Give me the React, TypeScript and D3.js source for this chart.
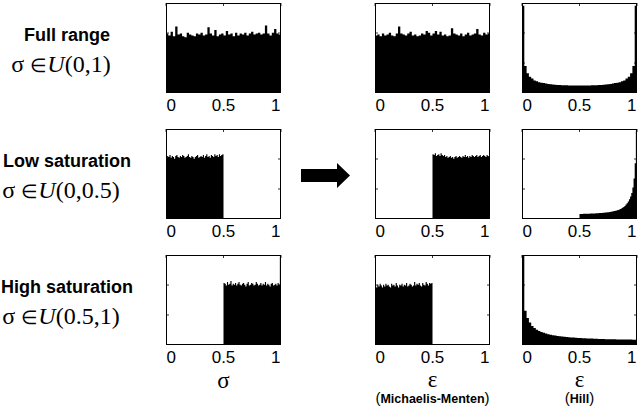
import React from "react";
import * as d3 from "d3";

// ---- data (bin heights, relative to the axis height) ----
const xTicks = [0, 0.5, 1];
const xTickLabels = ["0", "0.5", "1"];

const rowTitles = ["Full range", "Low saturation", "High saturation"];
const rowRanges = ["(0,1)", "(0,0.5)", "(0.5,1)"];

// row 1
const sigmaFull = [0.66,0.64,0.68,0.63,0.74,0.65,0.66,0.63,0.62,0.67,0.65,0.64,0.63,0.66,0.65,0.67,0.64,0.65,0.73,0.66,0.64,0.70,0.63,0.65,0.66,0.64,0.69,0.65,0.66,0.63,0.67,0.64,0.66,0.65,0.67,0.64,0.66,0.68,0.65,0.66,0.67,0.65,0.66,0.75,0.66,0.64,0.67,0.71,0.66,0.65];
const mmFull = [0.64,0.65,0.63,0.66,0.64,0.65,0.67,0.64,0.63,0.66,0.74,0.66,0.65,0.64,0.66,0.68,0.64,0.65,0.63,0.64,0.66,0.65,0.69,0.67,0.64,0.66,0.69,0.65,0.68,0.64,0.65,0.63,0.64,0.72,0.66,0.65,0.64,0.66,0.63,0.65,0.67,0.64,0.65,0.66,0.71,0.65,0.64,0.67,0.65,0.66];
const hillFull = [0.97,0.30,0.22,0.18,0.16,0.14,0.13,0.12,0.115,0.11,0.105,0.10,0.097,0.094,0.092,0.09,0.088,0.087,0.086,0.085,0.084,0.083,0.083,0.082,0.082,0.082,0.082,0.083,0.083,0.084,0.085,0.086,0.087,0.088,0.09,0.092,0.094,0.097,0.10,0.105,0.11,0.115,0.12,0.13,0.14,0.16,0.18,0.22,0.30,0.97];
// row 2
const sigmaLow = [0.68,0.70,0.69,0.71,0.68,0.70,0.69,0.67,0.70,0.71,0.69,0.68,0.70,0.69,0.71,0.70,0.68,0.69,0.70,0.72,0.69,0.68,0.70,0.69,0.67,0.69,0.70,0.71,0.68,0.69,0.70,0.69,0.71,0.68,0.70,0.72,0.69,0.70,0.68,0.71,0.70,0.69,0.72,0.70,0.71,0.69,0.72,0.70,0.71,0.72];
const mmLow = [0.72,0.71,0.73,0.70,0.71,0.72,0.70,0.73,0.71,0.70,0.71,0.69,0.70,0.68,0.69,0.70,0.68,0.69,0.67,0.69,0.70,0.68,0.69,0.70,0.69,0.68,0.70,0.69,0.71,0.69,0.70,0.68,0.70,0.69,0.71,0.70,0.69,0.70,0.71,0.69,0.70,0.71,0.69,0.70,0.71,0.70,0.69,0.71,0.70,0.69];
const hillLow = [0.055,0.056,0.056,0.057,0.057,0.058,0.058,0.059,0.059,0.06,0.06,0.061,0.062,0.062,0.063,0.064,0.065,0.066,0.067,0.068,0.069,0.07,0.071,0.073,0.074,0.076,0.078,0.08,0.082,0.085,0.088,0.091,0.095,0.099,0.104,0.11,0.116,0.124,0.133,0.145,0.16,0.175,0.195,0.22,0.25,0.29,0.35,0.45,0.62,0.98];
// row 3
const sigmaHigh = [0.69,0.68,0.66,0.70,0.67,0.68,0.71,0.66,0.68,0.67,0.69,0.66,0.68,0.70,0.67,0.66,0.68,0.69,0.67,0.65,0.68,0.70,0.66,0.67,0.69,0.68,0.66,0.67,0.70,0.68,0.66,0.67,0.69,0.66,0.68,0.67,0.70,0.66,0.68,0.67,0.65,0.68,0.69,0.66,0.67,0.68,0.66,0.69,0.67,0.98];
const mmHigh = [0.66,0.64,0.67,0.65,0.68,0.66,0.64,0.67,0.65,0.68,0.66,0.67,0.65,0.64,0.68,0.66,0.67,0.65,0.69,0.66,0.64,0.67,0.66,0.68,0.65,0.67,0.66,0.69,0.65,0.66,0.68,0.67,0.65,0.66,0.70,0.66,0.68,0.67,0.69,0.66,0.65,0.69,0.67,0.66,0.70,0.68,0.66,0.69,0.68,0.69];
const hillHigh = [1.0,0.38,0.3,0.25,0.21,0.19,0.17,0.155,0.145,0.135,0.127,0.12,0.114,0.109,0.105,0.101,0.097,0.094,0.091,0.088,0.086,0.084,0.082,0.08,0.078,0.077,0.075,0.074,0.073,0.072,0.071,0.07,0.069,0.068,0.067,0.066,0.065,0.065,0.064,0.063,0.063,0.062,0.062,0.061,0.061,0.06,0.06,0.06,0.059,0.059];

// [start, end] of each histogram's bins on the x axis
const panels = [
  [{ v: sigmaFull, a: 0, b: 1 }, { v: mmFull, a: 0, b: 1 }, { v: hillFull, a: 0, b: 1 }],
  [{ v: sigmaLow, a: 0, b: 0.5 }, { v: mmLow, a: 0.5, b: 1 }, { v: hillLow, a: 0.5, b: 1 }],
  [{ v: sigmaHigh, a: 0.5, b: 1 }, { v: mmHigh, a: 0, b: 0.5 }, { v: hillHigh, a: 0, b: 1 }],
];

// ---- layout ----
const colX = [166, 375, 522];
const boxW = 115;
const rowY = [3, 129, 255];
const boxH = 90;

const SANS = "'Liberation Sans', Arial, sans-serif";
const SERIF = "'Liberation Serif', 'Times New Roman', serif";

function Hist({ x0, y0, data }: { x0: number; y0: number; data: { v: number[]; a: number; b: number } }) {
  const x = d3.scaleLinear().domain([0, 1]).range([x0, x0 + boxW]);
  const y = d3.scaleLinear().domain([0, 1]).range([y0 + boxH, y0]);
  const n = data.v.length;
  const w = (data.b - data.a) / n;
  const pts = data.v.map((h, i) => [data.a + i * w, h] as [number, number]);
  pts.push([data.b, data.v[n - 1]]);
  const area = d3
    .area<[number, number]>()
    .x((d) => x(d[0]))
    .y0(y(0))
    .y1((d) => y(d[1]))
    .curve(d3.curveStepAfter);
  const yTicks = [1 / 3, 2 / 3];
  return (
    <g>
      <path d={area(pts) || ""} fill="#000" />
      {xTicks.map((t) => (
        <line key={"t" + t} x1={x(t)} x2={x(t)} y1={y0} y2={y0 + 3} stroke="#000" strokeWidth={0.8} />
      ))}
      {yTicks.map((t) => (
        <g key={"y" + t}>
          <line x1={x0 + boxW} x2={x0 + boxW - 3} y1={y(t)} y2={y(t)} stroke="#000" strokeWidth={0.8} />
          <line x1={x0} x2={x0 + 3} y1={y(t)} y2={y(t)} stroke="#000" strokeWidth={0.8} />
        </g>
      ))}
      <rect x={x0 + 0.5} y={y0 + 0.5} width={boxW - 1} height={boxH - 1} fill="none" stroke="#000" strokeWidth={1} />
      {xTicks.map((t, i) => (
        <text
          key={"l" + t}
          x={i === 0 ? x0 + 0.5 : i === 2 ? x0 + boxW - 0.5 : x(t)}
          y={y0 + boxH + 18}
          textAnchor={i === 0 ? "start" : i === 2 ? "end" : "middle"}
          fontFamily={SANS}
          fontSize={17}
        >
          {xTickLabels[i]}
        </text>
      ))}
    </g>
  );
}

export default function App() {
  return (
    <svg width={640} height={410} style={{ position: "absolute", left: 0, top: 0, background: "#fff" }}>
      <rect width={640} height={410} fill="#fff" />
      {panels.map((row, r) =>
        row.map((p, c) => <Hist key={r + "-" + c} x0={colX[c]} y0={rowY[r]} data={p} />)
      )}
      {rowTitles.map((t, r) => (
        <g key={t}>
          <text x={67} y={rowY[r] + 38} textAnchor="middle" fontFamily={SANS} fontWeight="bold" fontSize={18}>
            {t}
          </text>
          <text x={61} y={rowY[r] + 69} textAnchor="middle" fontFamily={SERIF} fontSize={24}>
            <tspan>σ </tspan>
            <tspan fontSize={19}>∈</tspan>
            <tspan fontStyle="italic">U</tspan>
            <tspan>{rowRanges[r]}</tspan>
          </text>
        </g>
      ))}
      {/* arrow */}
      <path d="M301,169 L337,169 L337,163 L350,175.5 L337,188 L337,182 L301,182 Z" fill="#000" />
      {/* axis labels */}
      <text x={colX[0] + boxW / 2} y={388} textAnchor="middle" fontFamily={SERIF} fontSize={23}>σ</text>
      <text x={colX[1] + boxW / 2} y={387} textAnchor="middle" fontFamily={SERIF} fontSize={23}>ε</text>
      <text x={colX[2] + boxW / 2} y={387} textAnchor="middle" fontFamily={SERIF} fontSize={23}>ε</text>
      <text x={colX[1] + boxW / 2} y={403} textAnchor="middle" fontFamily={SANS} fontWeight="bold" fontSize={12.5}>
        <tspan fontSize={15} fontWeight="normal">(</tspan>Michaelis-Menten<tspan fontSize={15} fontWeight="normal">)</tspan>
      </text>
      <text x={colX[2] + boxW / 2} y={403} textAnchor="middle" fontFamily={SANS} fontWeight="bold" fontSize={12.5}>
        <tspan fontSize={15} fontWeight="normal">(</tspan>Hill<tspan fontSize={15} fontWeight="normal">)</tspan>
      </text>
    </svg>
  );
}
